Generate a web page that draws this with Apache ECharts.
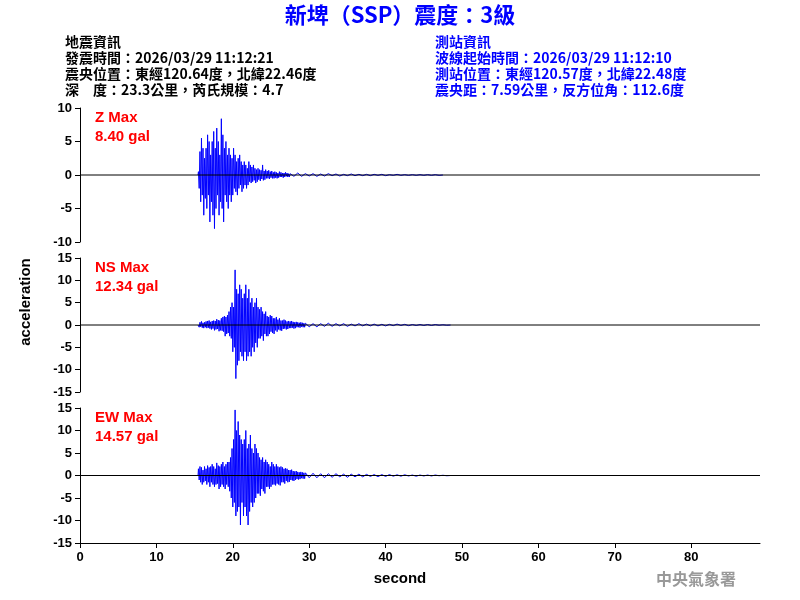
<!DOCTYPE html>
<html><head><meta charset="utf-8">
<script src="https://cdn.jsdelivr.net/npm/echarts@6/dist/echarts.min.js"></script>
<style>html,body{margin:0;padding:0;background:#fff}#c{width:800px;height:600px}</style>
</head><body><div id="c"></div>
<script>
const startT = 15.5, step = 0.1, tailStep = 0.5;
const zVals = [0.5,-2,3.5,-4,5.5,-3,4,-6,2.5,-3.5, 4,-5,6,-3,5,-7,3,-4,5,-6, 6.5,-8,4,-5,7,-3,5,-6,3,-4,
 8.4,-5,6,-7,4,-3,5,-4,3,-5, 4,-3,3,-4,2.5,-3,4,-2,3,-2.5, 2,-3,2.5,-2,3,-1.5,2,-2.5,1.5,-2,
 2,-1.5,1.5,-2,1,-1.5,2,-1,1.5,-1.2, 1.2,-1,1.5,-0.8,1,-1.2,0.8,-1,1,-0.7, 0.8,-0.9,0.7,-0.6,1.5,-0.8,0.6,-0.7,0.8,-0.5,
 0.6,-0.5,0.7,-0.6,0.5,-0.4,0.6,-0.5,0.4,-0.5, 0.5,-0.4,0.4,-0.5,0.3,-0.4,0.5,-0.3,0.4,-0.3, 0.3,-0.4,0.3,-0.3,0.4,-0.2,0.3,-0.3,0.2,-0.3];
const zTail = [0.2,-0.2,0.3,-0.2,0.2,-0.15,0.2,-0.2,0.15,-0.15,0.2,-0.1,0.15,-0.15,0.1,-0.1,0.15,-0.1,0.1,-0.1,0.1,-0.1,0.1,-0.05,0.1,-0.1,0.05,-0.05,0.1,-0.05,0.05,-0.05,0.05,-0.05,0.05,-0.05,0.05,-0.05,0.05,-0.05];
const nsVals = [0.3,-0.5,0.6,-0.4,0.8,-0.6,0.5,-0.7,0.6,-0.5, 0.8,-0.7,0.9,-0.6,1,-0.8,0.7,-1,0.9,-0.8, 1,-1.2,0.9,-1,1.3,-0.9,1.1,-1.4,1,-1.2,
 1.5,-1.3,1.8,-1.5,2,-2.5,1.8,-2,2.2,-1.8, 3,-2.5,4,-3,5,-6,4,-5,12.34,-12, 8,-9,7,-8,9,-6,8,-7,6,-8,
 7,-6,9,-8,6,-7,8,-6,5,-7, 6,-5,4,-6,5,-4,6,-5,4,-3, 3.5,-3,4,-2.5,3,-3.5,2.5,-2,3,-2.5,
 2,-2.5,1.8,-2,2.2,-1.5,2,-1.8,1.5,-2, 1.5,-1.2,1.8,-1.5,1.2,-1,1.5,-1.2,1,-1.3, 1,-0.9,1.2,-0.8,1,-1,0.8,-0.9,0.9,-0.7,
 0.8,-0.7,0.9,-0.6,0.7,-0.8,0.6,-0.7,0.7,-0.5, 0.6,-0.5,0.5,-0.6,0.6,-0.4,0.5,-0.5,0.4,-0.5];
const nsTail = [0.4,-0.4,0.3,-0.4,0.3,-0.3,0.4,-0.3,0.3,-0.2,0.3,-0.3,0.2,-0.2,0.3,-0.2,0.2,-0.2,0.2,-0.2,0.15,-0.2,0.15,-0.15,0.2,-0.1,0.15,-0.15,0.1,-0.1,0.1,-0.1,0.1,-0.1,0.1,-0.05,0.05,-0.05];
const ewVals = [1.5,-1,2,-1.5,1.8,-2,1.2,-1.5,2,-1.2, 1.5,-2,2.2,-1.5,1.8,-2.5,2,-1.5,2.5,-2, 2,-2.5,1.5,-2,2.8,-1.8,2.2,-3,2,-2.5,
 2.5,-2,3,-2.5,2,-3,2.5,-2,3,-2.5, 3,-3.5,4,-5,6,-7,8,-6,14.57,-9, 10,-8,12,-7,9,-11,8,-6,7,-9,
 8,-7,10,-9,6,-11,7,-8,9,-6, 6,-7,5,-6,7,-5,6,-4,5,-4, 4,-4.5,3.5,-3,4,-3.5,3,-4,3.5,-2.5,
 3,-2.5,2.5,-3,2,-2.5,3,-2,2.5,-2, 2,-2.2,2.5,-1.8,2,-2,1.8,-2.2,2,-1.5, 1.8,-1.5,1.5,-1.8,1.6,-1.2,1.5,-1.5,1.2,-1.4,
 1.2,-1,1.3,-1.1,1,-1.2,0.9,-1,1,-0.8, 0.8,-0.9,0.7,-0.8,0.8,-0.6,0.7,-0.7,0.6,-0.7];
const ewTail = [0.6,-0.5,0.5,-0.5,0.4,-0.5,0.4,-0.4,0.4,-0.3,0.3,-0.4,0.3,-0.3,0.3,-0.3,0.25,-0.2,0.2,-0.25,0.2,-0.2,0.2,-0.15,0.15,-0.15,0.15,-0.1,0.1,-0.15,0.1,-0.1,0.1,-0.1,0.1,-0.05,0.05,-0.05];
const xTicks = [0,10,20,30,40,50,60,70,80];

function toPairs(vals, tail){
  const out=[[startT-0.05,0]];
  vals.forEach((v,i)=>out.push([startT+i*step, v]));
  const t0 = startT+vals.length*step;
  tail.forEach((v,i)=>out.push([t0+i*tailStep, v]));
  out.push([t0+tail.length*tailStep,0]);
  return out;
}
const grids=[{left:80,right:40,top:108,height:134},{left:80,right:40,top:258,height:134},{left:80,right:40,top:408,height:135}];
const yRanges=[[-10,10,5],[-15,15,5],[-15,15,5]];
const axLbl={color:'#000',fontFamily:'Arial',fontSize:13,fontWeight:'bold'};
const xAxis=grids.map((g,i)=>({gridIndex:i,type:'value',min:0,max:89,interval:10,
  axisLine:{show:i===2,onZero:false,lineStyle:{color:'#000'}},axisTick:{show:i===2,length:5,customValues:xTicks,lineStyle:{color:'#000'}},
  axisLabel:{show:i===2,...axLbl,customValues:xTicks},splitLine:{show:false}}));
const yAxis=yRanges.map((r,i)=>({gridIndex:i,type:'value',min:r[0],max:r[1],interval:r[2],
  axisLine:{show:true,lineStyle:{color:'#000'}},axisTick:{show:true,length:5,lineStyle:{color:'#000'}},
  axisLabel:{...axLbl,margin:8},splitLine:{show:false}}));
const data=[toPairs(zVals,zTail),toPairs(nsVals,nsTail),toPairs(ewVals,ewTail)];
const series=[];
data.forEach((d,i)=>{
  series.push({type:'line',xAxisIndex:i,yAxisIndex:i,data:d,symbol:'none',lineStyle:{color:'#0000ff',width:1},z:2});
  series.push({type:'line',xAxisIndex:i,yAxisIndex:i,data:[[0,0],[89,0]],symbol:'none',lineStyle:{color:'#000',width:1},silent:true,z:3});
});
const red={fill:'#ff0000',font:'bold 15px Arial'};
const hdr='bold 14px "Noto Sans CJK TC", sans-serif';
function txt(x,y,t,style){return {type:'text',left:x,top:y,style:Object.assign({text:t},style)};}
const left=['地震資訊','發震時間：2026/03/29 11:12:21','震央位置：東經120.64度，北緯22.46度','深　度：23.3公里，芮氏規模：4.7'];
const right=['測站資訊','波線起始時間：2026/03/29 11:12:10','測站位置：東經120.57度，北緯22.48度','震央距：7.59公里，反方位角：112.6度'];
const graphic=[
  {type:'text',left:'center',top:4,style:{text:'新埤（SSP）震度：3級',fill:'#0000ff',font:'bold 22px "Noto Sans CJK TC", sans-serif'}},
  ...left.map((t,i)=>txt(65,35+i*16,t,{fill:'#000',font:hdr})),
  ...right.map((t,i)=>txt(435,35+i*16,t,{fill:'#0000ff',font:hdr})),
  txt(95,110,'Z Max',red),txt(95,129,'8.40 gal',red),
  txt(95,260,'NS Max',red),txt(95,279,'12.34 gal',red),
  txt(95,410,'EW Max',red),txt(95,429,'14.57 gal',red),
  {type:'text',left:'center',top:571,style:{text:'second',fill:'#000',font:'bold 15px Arial'}},
  {type:'text',x:26,y:302,rotation:Math.PI/2,style:{text:'acceleration',fill:'#000',font:'bold 15px Arial',align:'center',verticalAlign:'middle'}},
  txt(656,571,'中央氣象署',{fill:'#999',font:'bold 16px "Noto Sans CJK TC", serif'})
];
const chart=echarts.init(document.getElementById('c'));
chart.setOption({animation:false,grid:grids,xAxis,yAxis,series,graphic});
</script></body></html>
